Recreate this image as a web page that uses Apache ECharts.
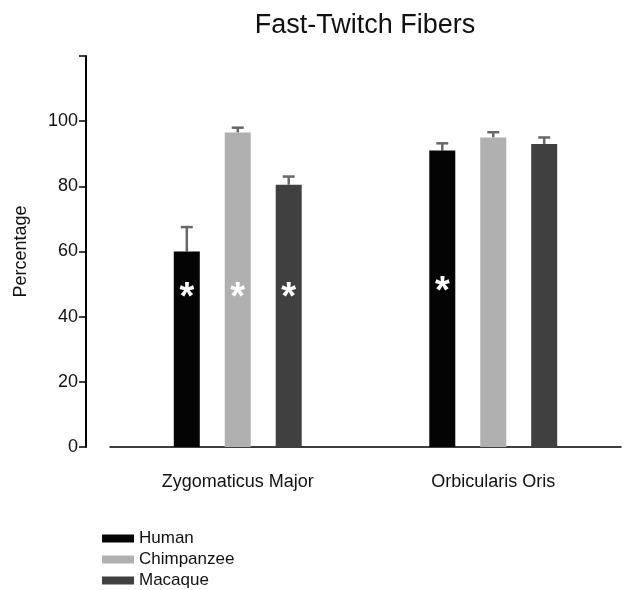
<!DOCTYPE html>
<html><head><meta charset="utf-8">
<script src="https://cdn.jsdelivr.net/npm/echarts@6/dist/echarts.min.js"></script>
<style>html,body{margin:0;padding:0;background:#fff}#c{width:639px;height:590px}</style>
</head><body><div id="c"></div>
<script>
const categories = ['Zygomaticus Major', 'Orbicularis Oris'];
const seriesNames = ['Human', 'Chimpanzee', 'Macaque'];
const human = [60, 91];
const chimpanzee = [96.5, 95];
const macaque = [80.5, 93];
const humanErrTop = [67.5, 93.2];
const chimpanzeeErrTop = [98, 96.6];
const macaqueErrTop = [83, 95];
const humanStar = [48, 50];
const chimpanzeeStar = [48, null];
const macaqueStar = [48, null];
const yTicks = [0, 20, 40, 60, 80, 100, 120];

const colors = ['#040404', '#b0b0b0', '#404040'];
const BAR_W = 26, GAP = 0.96;
const SPACING = BAR_W * (1 + GAP);
const FONT = 'Liberation Sans, Arial, sans-serif';

const values = [human, chimpanzee, macaque];
const errs = [humanErrTop, chimpanzeeErrTop, macaqueErrTop];
const stars = [humanStar, chimpanzeeStar, macaqueStar];

const barSeries = seriesNames.map((name, s) => ({
  name, type: 'bar', barWidth: BAR_W, barGap: (GAP * 100) + '%',
  itemStyle: { color: colors[s] },
  data: values[s].map((v, i) => {
    const st = stars[s][i];
    const item = { value: v };
    if (st != null) {
      item.label = {
        show: true, formatter: '*', color: '#fff', fontSize: 38, fontWeight: 'bold',
        fontFamily: FONT, offset: [0, 8],
        position: ['50%', ((1 - st / v) * 100) + '%'], align: 'center', verticalAlign: 'middle'
      };
    }
    return item;
  })
}));

const errData = [];
seriesNames.forEach((n, s) => values[s].forEach((v, i) => errData.push([i, v, errs[s][i], s])));

const errSeries = {
  name: 'err', type: 'custom', z: 1,
  encode: { x: 0, y: 2 },
  data: errData,
  renderItem: (params, api) => {
    const c = api.coord([api.value(0), 0]);
    const x = c[0] + (api.value(3) - 1) * SPACING;
    const yb = api.coord([api.value(0), api.value(1)])[1];
    const yt = api.coord([api.value(0), api.value(2)])[1];
    const st = { stroke: '#686868', lineWidth: 2.5 };
    return { type: 'group', children: [
      { type: 'line', shape: { x1: x, y1: yb, x2: x, y2: yt }, style: st },
      { type: 'line', shape: { x1: x - 6, y1: yt, x2: x + 6, y2: yt }, style: st }
    ]};
  }
};

const chart = echarts.init(document.getElementById('c'));
chart.setOption({
  animation: false,
  backgroundColor: '#fff',
  title: { text: 'Fast-Twitch Fibers', left: 360, top: 7, textAlign: 'center',
    textStyle: { fontSize: 27, fontWeight: 'normal', color: '#111', fontFamily: FONT } },
  legend: {
    data: seriesNames, orient: 'vertical', left: 97, top: 525, height: 80, icon: 'rect',
    itemWidth: 32, itemHeight: 8, itemGap: 4,
    textStyle: { fontSize: 17, color: '#111', fontFamily: FONT }
  },
  grid: { left: 110, right: 18, top: 56, bottom: 143, containLabel: false },
  xAxis: {
    type: 'category', data: categories,
    axisLine: { lineStyle: { color: '#000', width: 1.5 } },
    axisTick: { show: false },
    axisLabel: { color: '#111', fontSize: 18, margin: 26, fontFamily: FONT }
  },
  yAxis: {
    type: 'value', min: yTicks[0], max: yTicks[yTicks.length - 1], interval: 20, offset: 24,
    name: 'Percentage', nameLocation: 'middle', nameGap: 56, nameRotate: 90,
    nameTextStyle: { fontSize: 18, color: '#111', fontFamily: FONT },
    axisLine: { show: true, lineStyle: { color: '#000', width: 2 } },
    axisTick: { show: true, length: 7, lineStyle: { color: '#000', width: 1.5 } },
    axisLabel: { color: '#111', fontSize: 18, margin: 8, fontFamily: FONT,
      formatter: v => (v === yTicks[yTicks.length - 1] ? '' : v) },
    splitLine: { show: false }
  },
  series: [...barSeries, errSeries]
});
</script></body></html>
